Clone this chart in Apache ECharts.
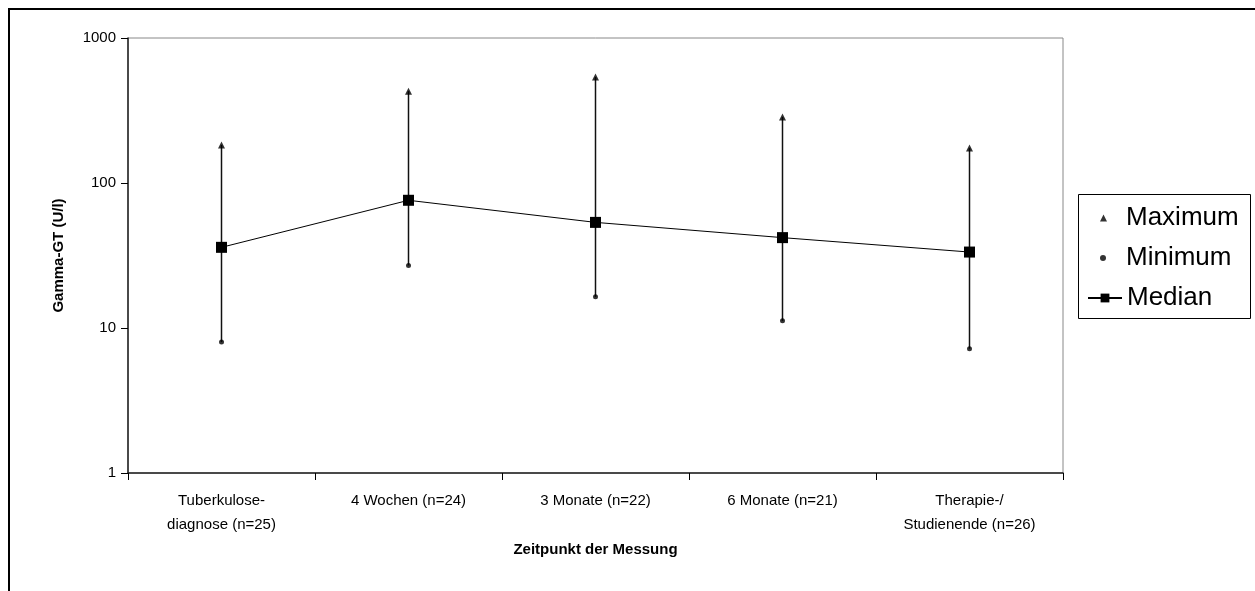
<!DOCTYPE html>
<html>
<head>
<meta charset="utf-8">
<title>Gamma-GT</title>
<script src="https://cdn.jsdelivr.net/npm/echarts@6/dist/echarts.min.js"></script>
<style>
  html, body { margin: 0; padding: 0; background: #fff; }
  #chart { width: 1255px; height: 591px; }
</style>
</head>
<body>
<div id="chart"></div>
<script>
// Messzeitpunkte
var categories = ['Tuberkulose-\ndiagnose (n=25)', '4 Wochen (n=24)', '3 Monate (n=22)', '6 Monate (n=21)', 'Therapie-/\nStudienende (n=26)'];
// Gamma-GT Werte (U/l)
var maxValues = [183, 430, 538, 285, 174];
var minValues = [8, 27, 16.4, 11.2, 7.2];
var medianValues = [36, 76, 53.5, 42, 33.4];
var yTicks = [1, 10, 100, 1000];

var font = 'Liberation Sans, Arial, sans-serif';
var legendText = { fontFamily: font, fontSize: 26, color: '#000' };

var rangeData = [];
for (var i = 0; i < categories.length; i++) {
  rangeData.push([i, minValues[i], maxValues[i]]);
}

var myChart = echarts.init(document.getElementById('chart'));
var option = {
  animation: false,
  textStyle: { fontFamily: font, color: '#000' },
  graphic: [
    { // Rahmen
      type: 'rect',
      shape: { x: 9, y: 9, width: 1300, height: 700 },
      style: { fill: 'none', stroke: '#000', lineWidth: 2 },
      silent: true
    },
    { // Legendenrahmen
      type: 'rect',
      shape: { x: 1078.5, y: 194.5, width: 172, height: 124 },
      style: { fill: 'none', stroke: '#000', lineWidth: 1 },
      silent: true
    }
  ],
  grid: {
    left: 128, top: 38, right: 192, bottom: 118,
    show: true, borderColor: '#888', borderWidth: 1
  },
  legend: [
    {
      left: 1100, top: 205, padding: 0,
      itemWidth: 7, itemHeight: 7,
      textStyle: Object.assign({ padding: [0, 0, 0, 14] }, legendText),
      data: ['Maximum']
    },
    {
      left: 1100, top: 245, padding: 0,
      itemWidth: 6, itemHeight: 6,
      textStyle: Object.assign({ padding: [0, 0, 0, 15] }, legendText),
      data: ['Minimum']
    },
    {
      left: 1087, top: 285, padding: 0,
      itemWidth: 34, itemHeight: 11,
      textStyle: Object.assign({ padding: 0 }, legendText),
      data: ['Median']
    }
  ],
  xAxis: {
    type: 'category',
    data: categories,
    boundaryGap: true,
    name: 'Zeitpunkt der Messung',
    nameLocation: 'middle',
    nameGap: 68,
    nameTextStyle: { fontFamily: font, fontSize: 15, fontWeight: 'bold', color: '#000' },
    axisLine: { lineStyle: { color: '#222', width: 1.5 } },
    axisTick: { show: true, length: 7, lineStyle: { color: '#000' } },
    axisLabel: { fontFamily: font, fontSize: 15, color: '#000', lineHeight: 24, margin: 16 },
    splitLine: { show: false }
  },
  yAxis: {
    type: 'log',
    logBase: 10,
    min: yTicks[0],
    max: yTicks[yTicks.length - 1],
    name: 'Gamma-GT (U/l)',
    nameLocation: 'middle',
    nameGap: 62,
    nameRotate: 90,
    nameTextStyle: { fontFamily: font, fontSize: 15, fontWeight: 'bold', color: '#000' },
    axisLine: { show: true, lineStyle: { color: '#222', width: 1.5 } },
    axisTick: { show: true, length: 7, lineStyle: { color: '#000' } },
    axisLabel: {
      fontFamily: font, fontSize: 15, color: '#000', margin: 12,
      formatter: function (v) { return String(Math.round(v)); }
    },
    minorTick: { show: false },
    splitLine: { show: false }
  },
  series: [
    {
      name: 'range',
      type: 'custom',
      z: 1,
      renderItem: function (params, api) {
        var a = api.coord([api.value(0), api.value(1)]);
        var b = api.coord([api.value(0), api.value(2)]);
        return {
          type: 'line',
          shape: { x1: a[0], y1: a[1], x2: b[0], y2: b[1] },
          style: { stroke: '#111', lineWidth: 1.5 }
        };
      },
      encode: { x: 0, y: [1, 2] },
      data: rangeData
    },
    {
      name: 'Maximum',
      type: 'scatter',
      symbol: 'triangle',
      symbolSize: 7,
      z: 3,
      itemStyle: { color: '#000' },
      data: maxValues
    },
    {
      name: 'Minimum',
      type: 'scatter',
      symbol: 'circle',
      symbolSize: 5,
      z: 3,
      itemStyle: { color: '#000' },
      data: minValues
    },
    {
      name: 'Median',
      type: 'line',
      symbol: 'rect',
      symbolSize: 11,
      z: 4,
      lineStyle: { color: '#000', width: 1 },
      itemStyle: { color: '#000' },
      data: medianValues
    }
  ]
};
myChart.setOption(option);
</script>
</body>
</html>
